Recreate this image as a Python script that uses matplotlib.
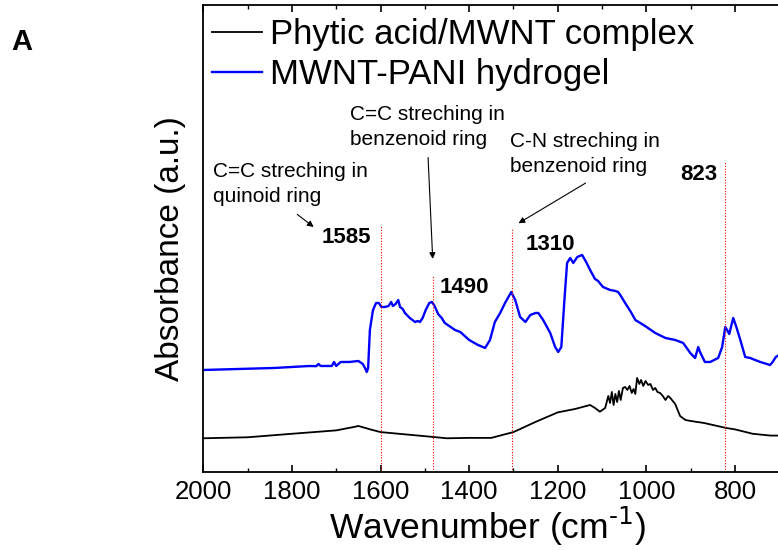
import matplotlib
matplotlib.use("Agg")
import matplotlib.pyplot as plt
from matplotlib.ticker import MultipleLocator
import numpy as np

plt.rcParams['font.family'] = ['Liberation Sans', 'DejaVu Sans']

# ---- data (absorbance in arbitrary units) ----
blue_w = [2000, 1960, 1920, 1880, 1840, 1800, 1760, 1745, 1740, 1735, 1710, 1705, 1700, 1690, 1670,
          1650, 1640, 1635, 1631, 1628, 1624, 1617, 1610, 1604, 1598, 1590, 1582, 1576, 1572, 1566,
          1560, 1556, 1550, 1545, 1534, 1528, 1522, 1516, 1511, 1505, 1498, 1490, 1484, 1478, 1470,
          1462, 1455, 1445, 1432, 1420, 1400, 1380, 1364, 1353, 1342, 1330, 1319, 1305, 1296, 1285,
          1273, 1262, 1250, 1244, 1233, 1217, 1206, 1199, 1192, 1185, 1179, 1172, 1165, 1156, 1145,
          1136, 1127, 1116, 1109, 1098, 1082, 1070, 1064, 1059, 1048, 1035, 1025, 1003, 980, 957,
          935, 917, 901, 890, 883, 879, 868, 856, 838, 829, 822, 818, 813, 808, 804,
          797, 788, 777, 766, 743, 721, 715, 708, 700]
blue_a = [1.017, 1.022, 1.027, 1.032, 1.037, 1.047, 1.057, 1.055, 1.077, 1.057, 1.057, 1.097, 1.057, 1.097, 1.097,
          1.107, 1.077, 1.037, 0.997, 1.037, 1.417, 1.617, 1.687, 1.687, 1.647, 1.647, 1.657, 1.697, 1.657, 1.677,
          1.717, 1.647, 1.627, 1.587, 1.537, 1.517, 1.497, 1.507, 1.497, 1.537, 1.617, 1.687, 1.697, 1.657, 1.577,
          1.537, 1.487, 1.457, 1.417, 1.397, 1.317, 1.267, 1.237, 1.317, 1.497, 1.587, 1.687, 1.797, 1.717, 1.547,
          1.497, 1.567, 1.587, 1.587, 1.517, 1.387, 1.247, 1.197, 1.247, 1.717, 2.087, 2.137, 2.087, 2.147, 2.167,
          2.097, 2.017, 1.927, 1.907, 1.847, 1.817, 1.807, 1.797, 1.767, 1.687, 1.597, 1.517, 1.457, 1.387, 1.337,
          1.317, 1.287, 1.187, 1.137, 1.247, 1.197, 1.097, 1.097, 1.137, 1.247, 1.447, 1.417, 1.377, 1.467, 1.537,
          1.447, 1.317, 1.147, 1.137, 1.097, 1.067, 1.097, 1.147, 1.167]

black_w = [2000, 1900, 1800, 1700, 1660, 1650, 1620, 1600, 1500, 1450, 1400, 1350, 1300, 1250, 1200,
           1161, 1127, 1116, 1105, 1093, 1086, 1082, 1078, 1074, 1070, 1066, 1062, 1058, 1053, 1048,
           1043, 1038, 1033, 1029, 1025, 1021, 1016, 1012, 1007, 1002, 996, 991, 985, 980, 975,
           969, 963, 957, 951, 946, 935, 924, 912, 900, 870, 850, 820, 800, 760, 720, 700]
black_a = [0.334, 0.344, 0.379, 0.413, 0.447, 0.457, 0.419, 0.396, 0.355, 0.334, 0.338, 0.338, 0.396, 0.498, 0.593,
           0.627, 0.667, 0.637, 0.600, 0.637, 0.757, 0.687, 0.797, 0.667, 0.777, 0.697, 0.807, 0.717, 0.837, 0.847,
           0.817, 0.857, 0.787, 0.827, 0.777, 0.937, 0.877, 0.917, 0.857, 0.907, 0.867, 0.877, 0.817, 0.837, 0.797,
           0.787, 0.757, 0.717, 0.757, 0.737, 0.677, 0.557, 0.517, 0.507, 0.487, 0.467, 0.437, 0.423, 0.379, 0.361, 0.361]

peak_pos = [1599, 1481, 1303, 822]          # red dotted marker positions
peak_top = [2.47, 1.97, 2.44, 3.10]         # top of each marker line
peak_labels = ['1585', '1490', '1310', '823']
series_labels = ['Phytic acid/MWNT complex', 'MWNT-PANI hydrogel']

fig = plt.figure(figsize=(7.78, 5.5), dpi=100)
ax = fig.add_axes([0.2613, 0.1424, 0.7404, 0.8491])

ax.plot(black_w, black_a, color='black', lw=1.3, label=series_labels[0])
ax.plot(blue_w, blue_a, color='#0000ff', lw=1.7, label=series_labels[1])

for p, t in zip(peak_pos, peak_top):
    ax.plot([p, p], [0, t], color='red', lw=0.8, ls=(0, (1, 1.5)))

ax.set_xlim(2000, 700)
ax.set_ylim(0, 4.67)
ax.xaxis.set_major_locator(MultipleLocator(200))
ax.xaxis.set_minor_locator(MultipleLocator(100))
ax.set_yticks([])
ax.tick_params(axis='x', which='major', direction='in', length=5, width=1.2, top=True, labelsize=18.5, pad=6)
ax.tick_params(axis='x', which='minor', direction='in', length=3, width=1, top=True)
ax.spines['right'].set_visible(False)
for s in ['left', 'bottom', 'top']:
    ax.spines[s].set_linewidth(1.3)

ax.set_xlabel(r'Wavenumber (cm$^{\text{-1}}$)', fontsize=25.5)
ax.set_ylabel('Absorbance (a.u.)', fontsize=24)
ax.xaxis.set_label_coords(0.4925, -0.117, transform=ax.transAxes)
ax.yaxis.set_label_coords(-0.057, 0.478, transform=ax.transAxes)
ax.xaxis.label.set_va('center')
ax.yaxis.label.set_va('center')

leg = ax.legend(loc='upper left', bbox_to_anchor=(0.0, 0.99), frameon=False, fontsize=25,
                handlelength=1.45, handletextpad=0.23, labelspacing=0.2, borderaxespad=0.0,
                borderpad=0.25)

# annotations
afs = 15
ls_ = 1.42
ax.text(1978, 3.10, 'C=C streching in\nquinoid ring', fontsize=afs, va='top', ha='left', linespacing=ls_)
ax.annotate('', xy=(1746, 2.43), xytext=(1793, 2.59),
            arrowprops=dict(arrowstyle='-|>', color='black', lw=0.8, mutation_scale=9))
ax.text(1669, 3.67, 'C=C streching in\nbenzenoid ring', fontsize=afs, va='top', ha='left', linespacing=ls_)
ax.annotate('', xy=(1482, 2.10), xytext=(1493, 3.17),
            arrowprops=dict(arrowstyle='-|>', color='black', lw=0.8, mutation_scale=9))
ax.text(1308, 3.40, 'C-N streching in\nbenzenoid ring', fontsize=afs, va='top', ha='left', linespacing=ls_)
ax.annotate('', xy=(1294, 2.47), xytext=(1132, 2.90),
            arrowprops=dict(arrowstyle='-|>', color='black', lw=0.8, mutation_scale=9))

lab_pos = [(1732, 2.34), (1467, 1.84), (1272, 2.27), (924, 2.97)]
for (x, y), l in zip(lab_pos, peak_labels):
    ax.text(x, y, l, fontsize=16, fontweight='bold', va='center', ha='left')

fig.text(0.014, 0.924, 'A', fontsize=21, fontweight='bold', va='center', ha='left')

fig.savefig('out.png', dpi=100)
